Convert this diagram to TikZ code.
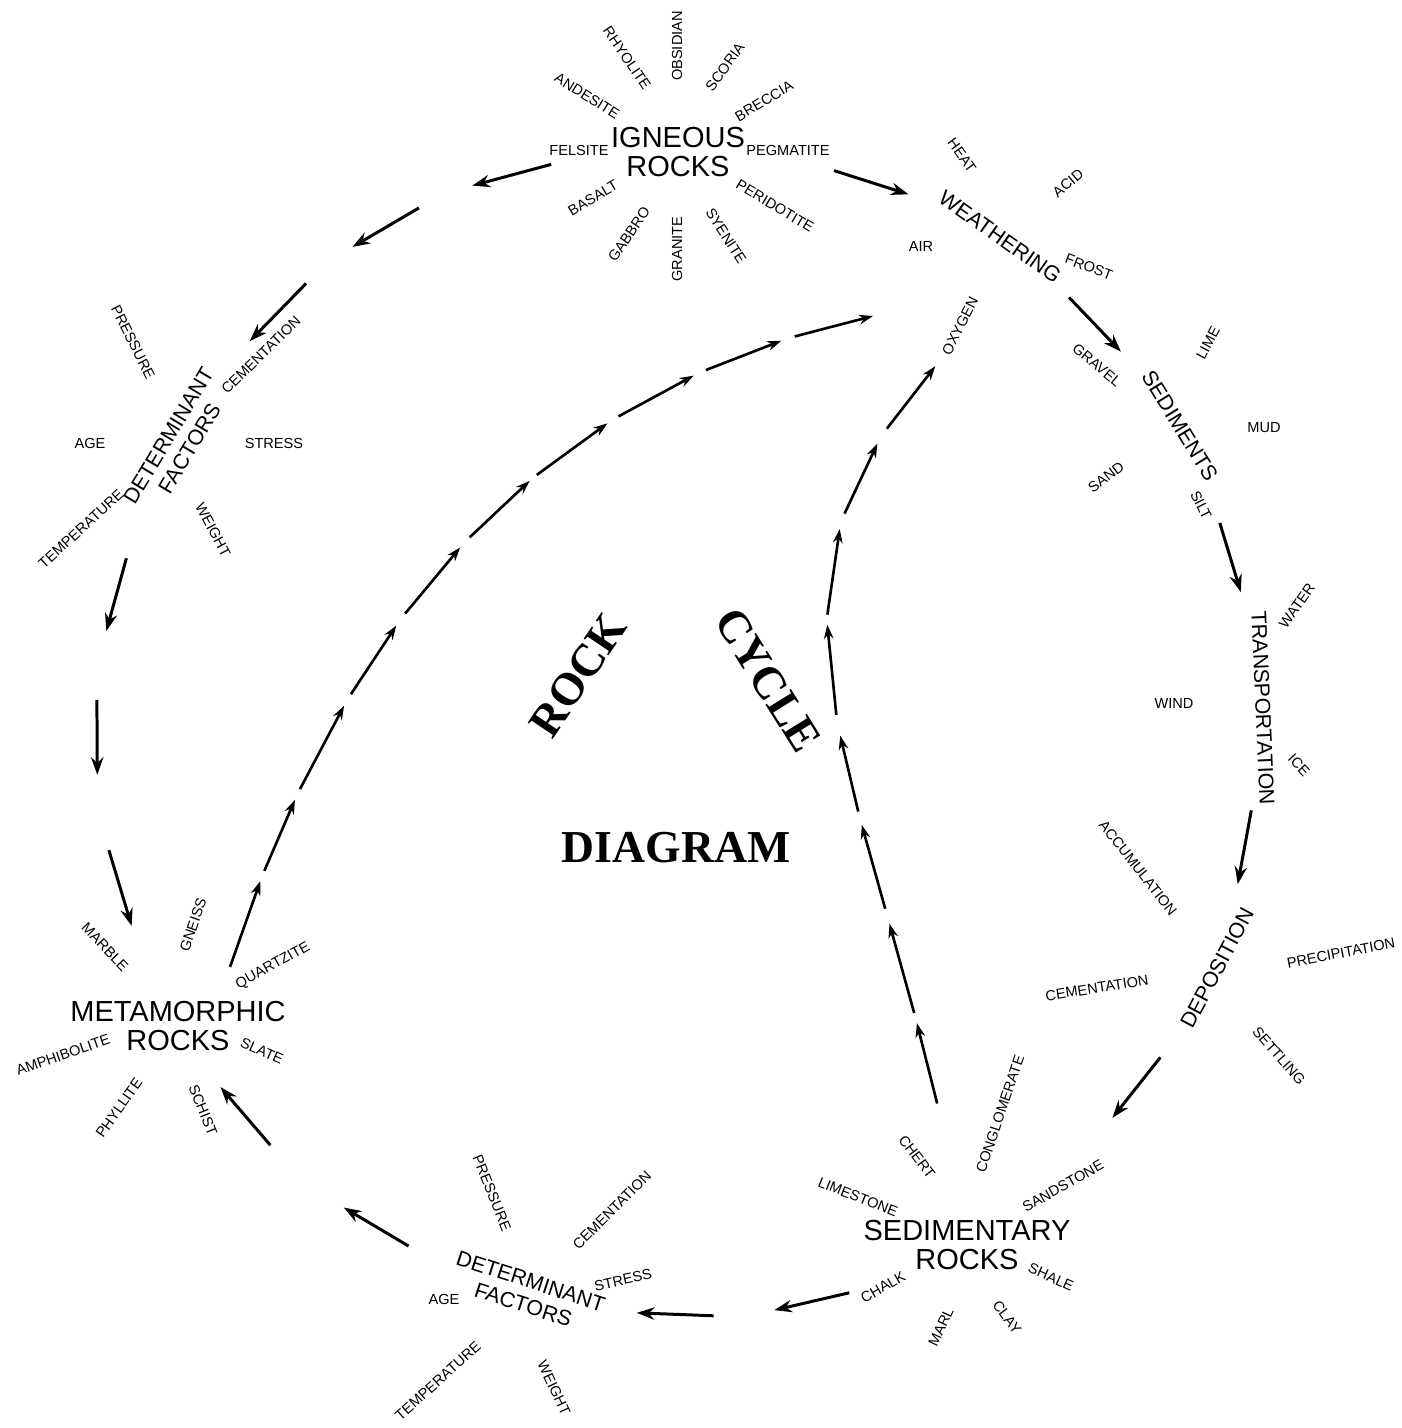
\documentclass[tikz,border=0pt]{standalone}
\usepackage{fontspec}
\setmainfont{Liberation Sans}
\newfontfamily\titlefont{Liberation Serif}
\usetikzlibrary{arrows.meta,calc}

\begin{document}
\begin{tikzpicture}[x=0.02cm,y=0.02cm,
    lbl/.style={font=\fontsize{8.3}{9}\selectfont,inner sep=1pt},
    proc/.style={font=\fontsize{12.2}{14}\selectfont,align=center,inner sep=1pt},
    rock/.style={font=\fontsize{16.5}{16}\selectfont,align=center,inner sep=1pt},
    ttl/.style={font=\titlefont\bfseries\fontsize{26}{28}\selectfont,inner sep=0pt},
    flow/.style={line width=1.7pt,-{Stealth[length=10pt,width=7pt]}},
    seg/.style={line width=1.5pt,-{Stealth[length=8pt,width=5.5pt]}}]
\useasboundingbox (0,0) rectangle (1402,-1428);

                    \node[rock] (IGN) at (678,-152) {IGNEOUS\\ROCKS};
                    \node[lbl,rotate=90] (OBS) at (677,-46) {OBSIDIAN};
                    \node[lbl,rotate=-56] (RHY) at (627,-58) {RHYOLITE};
                    \node[lbl,rotate=54.5] (SCO) at (725,-67) {SCORIA};
                    \node[lbl,rotate=-32] (AND) at (587,-96) {ANDESITE};
                    \node[lbl,rotate=31] (BRE) at (764,-101) {BRECCIA};
                    \node[lbl] (FEL) at (579,-150) {FELSITE};
                    \node[lbl] (PEG) at (788,-150) {PEGMATITE};
                    \node[lbl,rotate=30.7] (BAS) at (593,-198) {BASALT};
                    \node[lbl,rotate=-31] (PER) at (775,-206) {PERIDOTITE};
                    \node[lbl,rotate=56] (GAB) at (629,-234) {GABBRO};
                    \node[lbl,rotate=90] (GRA) at (677,-249) {GRANITE};
                    \node[lbl,rotate=-57.5] (SYE) at (726,-236) {SYENITE};

                    \node[proc,rotate=-35.3] (WEA) at (1000,-237) {WEATHERING};
                    \node[lbl,rotate=-54.7] (HEA) at (962,-155) {HEAT};
                    \node[lbl,rotate=40] (ACI) at (1068,-183) {ACID};
                    \node[lbl] (AIR) at (921,-246) {AIR};
                    \node[lbl,rotate=-21] (FRO) at (1089,-267) {FROST};
                    \node[lbl,rotate=63] (OXY) at (960,-326) {OXYGEN};

                    \node[proc,rotate=-58.4] (SED) at (1180,-426) {SEDIMENTS};
                    \node[lbl,rotate=-39.6] (GRV) at (1097,-365) {GRAVEL};
                    \node[lbl,rotate=62] (LIM) at (1208,-343) {LIME};
                    \node[lbl] (MUD) at (1264,-428) {MUD};
                    \node[lbl,rotate=37] (SAN) at (1106,-477) {SAND};
                    \node[lbl,rotate=-63] (SIL) at (1201,-505) {SILT};

                    \node[proc,rotate=-87.5] (TRA) at (1263,-708) {TRANSPORTATION};
                    \node[lbl,rotate=55] (WAT) at (1297,-606) {WATER};
                    \node[lbl] (WIN) at (1174,-703) {WIND};
                    \node[lbl,rotate=-47] (ICE) at (1299,-765) {ICE};

                    \node[proc,rotate=62] (DEP) at (1217,-968) {DEPOSITION};
                    \node[lbl,rotate=-51.6] (ACC) at (1138,-868) {ACCUMULATION};
                    \node[lbl,rotate=10.7] (PRE) at (1341,-953) {PRECIPITATION};
                    \node[lbl,rotate=9] (CEM) at (1097,-988) {CEMENTATION};
                    \node[lbl,rotate=-48.5] (SET) at (1279,-1056) {SETTLING};

                    \node[rock] (SDR) at (967,-1245) {SEDIMENTARY\\ROCKS};
                    \node[lbl,rotate=-52.8] (CHE) at (917,-1157) {CHERT};
                    \node[lbl,rotate=71.3] (CON) at (1000,-1114) {CONGLOMERATE};
                    \node[lbl,rotate=-21.8] (LMS) at (858,-1197) {LIMESTONE};
                    \node[lbl,rotate=29.4] (SST) at (1063,-1186) {SANDSTONE};
                    \node[lbl,rotate=29.7] (CHA) at (883,-1287) {CHALK};
                    \node[lbl,rotate=-24] (SHA) at (1051,-1277) {SHALE};
                    \node[lbl,rotate=65] (MAR) at (941,-1327) {MARL};
                    \node[lbl,rotate=-53] (CLA) at (1007,-1317) {CLAY};

                    \node[proc,rotate=-18] (DFB) at (527,-1293) {DETERMINANT\\FACTORS};
                    \node[lbl,rotate=-68] (PRB) at (492,-1193) {PRESSURE};
                    \node[lbl,rotate=45] (CMB) at (612,-1210) {CEMENTATION};
                    \node[lbl,rotate=12.5] (STB) at (623,-1280) {STRESS};
                    \node[lbl] (AGB) at (444,-1299) {AGE};
                    \node[lbl,rotate=41.9] (TPB) at (438,-1381) {TEMPERATURE};
                    \node[lbl,rotate=-65] (WGB) at (554,-1388) {WEIGHT};

                    \node[rock] (MET) at (178,-1026) {METAMORPHIC\\ROCKS};
                    \node[lbl,rotate=-46] (MRB) at (105,-947) {MARBLE};
                    \node[lbl,rotate=71] (GNE) at (193,-925) {GNEISS};
                    \node[lbl,rotate=29] (QUA) at (273,-966) {QUARTZITE};
                    \node[lbl,rotate=19.3] (AMP) at (63,-1055) {AMPHIBOLITE};
                    \node[lbl,rotate=-24] (SLA) at (262,-1051) {SLATE};
                    \node[lbl,rotate=54.6] (PHY) at (119,-1108) {PHYLLITE};
                    \node[lbl,rotate=-68] (SCH) at (203,-1110) {SCHIST};

                    \node[proc,rotate=59] (DFL) at (179,-442) {DETERMINANT\\FACTORS};
                    \node[lbl,rotate=-63.4] (PRL) at (133,-342) {PRESSURE};
                    \node[lbl,rotate=44.4] (CML) at (261,-355) {CEMENTATION};
                    \node[lbl] (AGL) at (90,-443) {AGE};
                    \node[lbl] (STL) at (274,-443) {STRESS};
                    \node[lbl,rotate=42.6] (TPL) at (81,-529) {TEMPERATURE};
                    \node[lbl,rotate=-62] (WGL) at (213,-530) {WEIGHT};

                    \node[ttl,rotate=56] (RCK) at (578,-675) {ROCK};
                    \node[ttl,rotate=-58] (CYC) at (768,-680) {CYCLE};
                    \node[ttl] (DIA) at (676,-848) {DIAGRAM};

                    \coordinate (MQ) at ($(MET)+(52,59)$);
                    \coordinate (WX) at ($(WEA)+(-127,-79)$);

                    \foreach \a/\b in {.465/.714}{
                      \path (IGN.center) to[bend left=13] coordinate[pos=\a] (s) coordinate[pos=\b] (e) (WEA.center);
                      \draw[flow] (s) -- (e);}
                    \foreach \a/\b in {.338/.649}{
                      \path (WEA.center) to[bend left=7] coordinate[pos=\a] (s) coordinate[pos=\b] (e) (SED.center);
                      \draw[flow] (s) -- (e);}
                    \foreach \a/\b in {.343/.609}{
                      \path (SED.center) to[bend left=8] coordinate[pos=\a] (s) coordinate[pos=\b] (e) (TRA.center);
                      \draw[flow] (s) -- (e);}
                    \foreach \a/\b in {.380/.687}{
                      \path (TRA.center) to[bend left=5] coordinate[pos=\a] (s) coordinate[pos=\b] (e) (DEP.center);
                      \draw[flow] (s) -- (e);}
                    \foreach \a/\b in {.266/.485}{
                      \path (DEP.center) to[bend left=12] coordinate[pos=\a] (s) coordinate[pos=\b] (e) (SDR.center);
                      \draw[flow] (s) -- (e);}
                    \foreach \a/\b in {.267/.446,.591/.768}{
                      \path (SDR.center) to[bend left=20] coordinate[pos=\a] (s) coordinate[pos=\b] (e) (DFB.center);
                      \draw[flow] (s) -- (e);}
                    \foreach \a/\b in {.270/.447,.676/.848}{
                      \path (DFB.center) to[bend left=20] coordinate[pos=\a] (s) coordinate[pos=\b] (e) (MET.center);
                      \draw[flow] (s) -- (e);}
                    \foreach \a/\b in {.197/.322,.441/.571,.701/.831}{
                      \path (DFL.center) to[bend right=29] coordinate[pos=\a] (s) coordinate[pos=\b] (e) (MET.center);
                      \draw[flow] (s) -- (e);}
                    \foreach \a/\b in {.199/.336,.436/.571,.673/.808}{
                      \path (IGN.center) to[bend right=29.5] coordinate[pos=\a] (s) coordinate[pos=\b] (e) (DFL.center);
                      \draw[flow] (s) -- (e);}

                    \foreach \a/\b in {0/.088,.099/.176,.188/.285,.299/.386,.402/.495,.51/.6,.61/.705,.719/.81,.824/.907,.921/1}{
                      \path (MQ) .. controls (337,-634) and (531,-389) .. (WX) coordinate[pos=\a] (s) coordinate[pos=\b] (e);
                      \draw[seg] (s) -- (e);}
                    \foreach \a/\b in {.107/.175,.184/.268,.283/.372,.387/.477,.503/.622,.636/.757,.779/.879,.9/.986}{
                      \path (SDR.center) .. controls (881,-773) and (713,-606) .. (OXY.west) coordinate[pos=\a] (s) coordinate[pos=\b] (e);
                      \draw[seg] (s) -- (e);}
\end{tikzpicture}
\end{document}
